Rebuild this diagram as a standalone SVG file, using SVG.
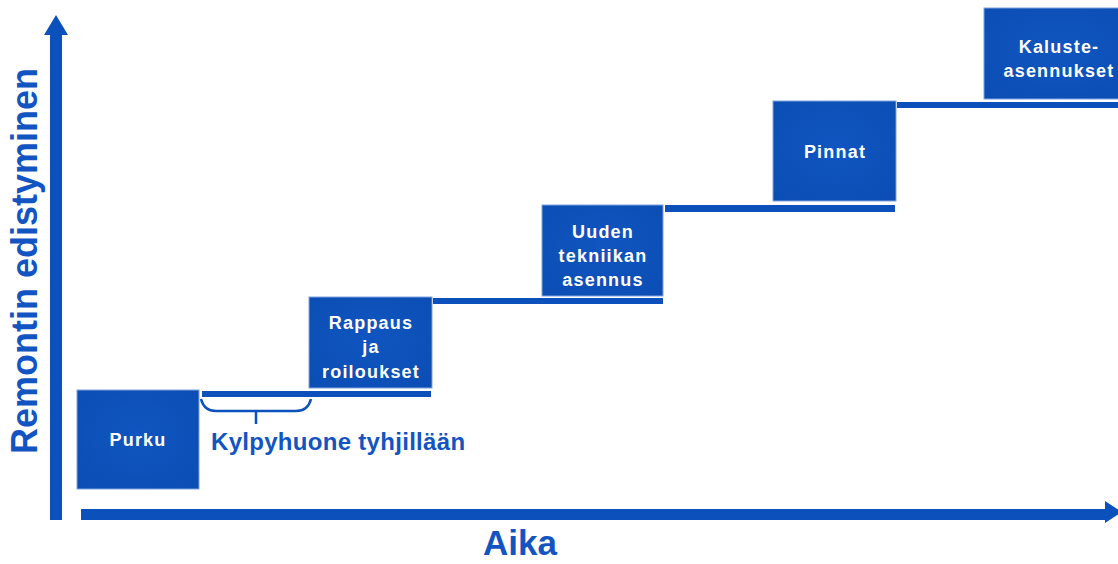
<svg xmlns="http://www.w3.org/2000/svg" width="1118" height="564" viewBox="0 0 1118 564">
  <defs>
    <radialGradient id="boxFill" cx="50%" cy="45%" r="75%">
      <stop offset="0" stop-color="#1055c0"/>
      <stop offset="1" stop-color="#0b4db3"/>
    </radialGradient>
    <style>
      .box { fill: url(#boxFill); stroke: #7fa3e0; stroke-width: 1; }
      .lbl { font-family: "Liberation Sans", Arial, sans-serif; font-weight: bold; font-size: 18px; fill: #ffffff; text-anchor: middle; letter-spacing: 1.2px; }
      .bar { fill: #0b50bb; }
      .axis { fill: #0b50bb; }
      .ttl { font-family: "Liberation Sans", Arial, sans-serif; font-weight: bold; fill: #1255c2; }
    </style>
  </defs>
  <rect width="1118" height="564" fill="#ffffff"/>

  <g id="axes">
    <path class="axis" d="M50,520 L50,35 L44,35 L56,15 L68,35 L62,35 L62,520 Z"/>
    <path class="axis" d="M81,509 L1105,509 L1105,501 L1122,512 L1105,523 L1105,520 L81,520 Z"/>
    <text class="ttl" font-size="36" transform="translate(37,261) rotate(-90)" text-anchor="middle">Remontin edistyminen</text>
    <text class="ttl" font-size="35" x="520" y="555" text-anchor="middle">Aika</text>
  </g>

  <g id="connectors">
    <rect class="bar" x="202" y="391" width="229" height="6"/>
    <rect class="bar" x="433" y="298" width="230" height="6"/>
    <rect class="bar" x="665" y="205" width="230" height="7"/>
    <rect class="bar" x="897" y="102" width="221" height="6"/>
    <path d="M201,399 Q204,411 216,411 L296,411 Q308,411 311,399 M256,411 L256,424" fill="none" stroke="#0b50bb" stroke-width="2.5"/>
  </g>

  <g id="purku">
    <rect class="box" x="77" y="390" width="122" height="99"/>
    <text class="lbl" x="138" y="446">Purku</text>
  </g>

  <g id="kylpyhuone">
    <text class="ttl" font-size="24" x="211" y="450" letter-spacing="0.3">Kylpyhuone tyhjillään</text>
  </g>

  <g id="rappaus">
    <rect class="box" x="309" y="297" width="123" height="91"/>
    <text class="lbl" x="371" y="329">Rappaus</text>
    <text class="lbl" x="371" y="353">ja</text>
    <text class="lbl" x="371" y="378">roiloukset</text>
  </g>

  <g id="tekniikka">
    <rect class="box" x="542" y="205" width="121" height="91"/>
    <text class="lbl" x="603" y="238">Uuden</text>
    <text class="lbl" x="603" y="262">tekniikan</text>
    <text class="lbl" x="603" y="286">asennus</text>
  </g>

  <g id="pinnat">
    <rect class="box" x="773" y="101" width="123" height="100"/>
    <text class="lbl" x="835" y="158">Pinnat</text>
  </g>

  <g id="kaluste">
    <rect class="box" x="984" y="8" width="150" height="91"/>
    <text class="lbl" x="1059" y="53">Kaluste-</text>
    <text class="lbl" x="1059" y="77">asennukset</text>
  </g>
</svg>
